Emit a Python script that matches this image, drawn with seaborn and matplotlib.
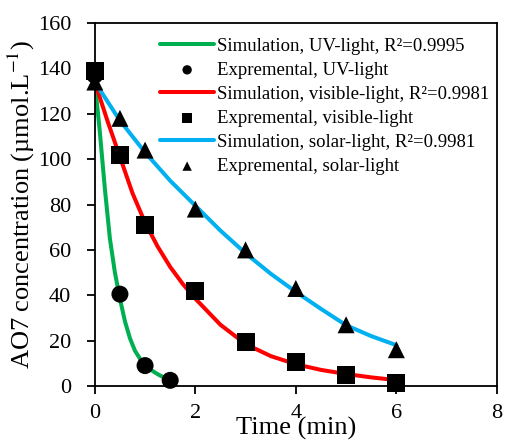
import numpy as np
import pandas as pd
import matplotlib
matplotlib.use("Agg")
import matplotlib.pyplot as plt
import seaborn as sns

uv_t = [0, 0.5, 1.0, 1.5]
uv_c = [137, 40.5, 9, 2.5]
vis_t = [0, 0.5, 1, 2, 3, 4, 5, 6]
vis_c = [139, 102, 71, 42, 19.5, 10.5, 5, 1.5]
sol_t = [0, 0.5, 1, 2, 3, 4, 5, 6]
sol_c = [134, 118, 104, 78, 60, 43, 27, 16]

# Simulated curves
uv_sim_t = [0, 0.1, 0.2, 0.3, 0.4, 0.5, 0.6, 0.7, 0.8, 0.9, 1.0, 1.1, 1.2, 1.3, 1.4, 1.5]
uv_sim_c = [134, 112, 87, 65, 50, 38.5, 28.5, 21, 15.5, 12, 9.4, 7.4, 5.9, 4.6, 3.6, 2.7]
vis_sim_t = [0, 0.25, 0.5, 0.75, 1.0, 1.25, 1.5, 1.75, 2.0, 2.5, 3.0, 3.5, 4.0, 4.5, 5.0, 5.5, 6.0]
vis_sim_c = [134, 117, 101, 85, 72, 61.5, 52.5, 45, 38.5, 27, 18.5, 13.2, 9.6, 7.1, 5.3, 3.8, 2.6]
sol_sim_t = [0, 0.5, 1.0, 1.5, 2.0, 2.5, 3.0, 3.5, 4.0, 4.5, 5.0, 5.5, 6.0]
sol_sim_c = [134, 117, 103, 90.5, 79.5, 68.5, 58.5, 49.5, 41.5, 34, 26.8, 22, 18]

sns.set_style("ticks")
plt.rcParams['font.family'] = ['Liberation Serif', 'DejaVu Serif']
plt.rcParams['mathtext.fontset'] = 'stix'
plt.rcParams['text.color'] = 'black'
plt.rcParams['axes.labelcolor'] = 'black'
plt.rcParams['xtick.color'] = 'black'
plt.rcParams['ytick.color'] = 'black'
plt.rcParams['lines.solid_joinstyle'] = 'round'

fig = plt.figure(figsize=(5.07, 4.41), dpi=100)
ax = fig.add_axes([0.187, 0.1247, 0.793, 0.823])

green, red, blue = '#00B050', '#FF0000', '#00B0F0'

sns.lineplot(x=uv_sim_t, y=uv_sim_c, color=green, lw=2.9, ax=ax,
             label='Simulation, UV-light, R²=0.9995')
sns.scatterplot(x=uv_t, y=uv_c, color='black', marker='o', s=150, edgecolor='none',
                ax=ax, zorder=3, clip_on=False, label='Expremental, UV-light')
sns.lineplot(x=vis_sim_t, y=vis_sim_c, color=red, lw=2.9, ax=ax,
             label='Simulation, visible-light, R²=0.9981')
sns.scatterplot(x=vis_t, y=vis_c, color='black', marker='s', s=170, edgecolor='none',
                ax=ax, zorder=3, clip_on=False, label='Expremental, visible-light')
sns.lineplot(x=sol_sim_t, y=sol_sim_c, color=blue, lw=2.9, ax=ax,
             label='Simulation, solar-light, R²=0.9981')
sns.scatterplot(x=sol_t, y=sol_c, color='black', marker='^', s=150, edgecolor='none',
                ax=ax, zorder=4, clip_on=False, label='Expremental, solar-light')

ax.set_xlim(0, 8)
ax.set_ylim(0, 160)
ax.set_xticks(range(0, 9, 2))
ax.set_yticks(range(0, 161, 20))
ax.tick_params(axis='both', direction='out', length=6, width=1.3, labelsize=16,
               color='black', labelcolor='black')
ax.tick_params(axis='y', pad=11)
ax.tick_params(axis='x', pad=7)
for s in ax.spines.values():
    s.set_linewidth(1.3)
    s.set_color('black')

ax.set_xlabel('Time (min)', fontsize=19, color='black')
ax.set_ylabel(r'AO7 concentration (µmol.L$^{-1}$)', fontsize=19, color='black')
ax.xaxis.set_label_coords(0.5, -0.085)
ax.yaxis.set_label_coords(-0.145, 0.5)

ax.legend(loc='upper left', bbox_to_anchor=(0.162, 0.96), frameon=False, fontsize=13.5,
          handlelength=2.9, handletextpad=0.15, labelspacing=0.37, borderpad=0,
          borderaxespad=0, markerscale=0.55)

fig.savefig('out.png', dpi=100)
